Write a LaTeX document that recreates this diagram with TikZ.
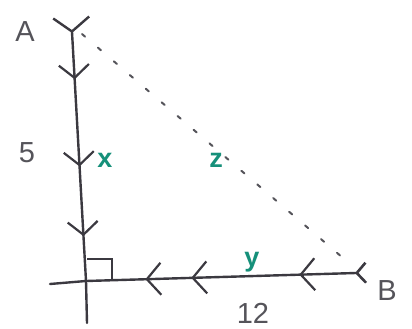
\documentclass[tikz,border=0pt]{standalone}
\usepackage{fontspec}
\setmainfont{Liberation Sans}
\usetikzlibrary{arrows.meta,decorations.markings}
\definecolor{ink}{HTML}{3B3940}
\definecolor{teal}{HTML}{16907A}
\definecolor{pencil}{HTML}{55545A}
\tikzset{
  ink line/.style={draw=ink, line width=2.4pt, line cap=round},
  lbl/.style={text=pencil, font=\fontsize{29}{29}\selectfont, inner sep=0pt},
  var/.style={text=teal, font=\bfseries\fontsize{27}{27}\selectfont, inner sep=0pt},
  dotline/.style={draw=pencil, line width=2pt, dash pattern=on 4pt off 17pt, line cap=round}
}
\begin{document}
\begin{tikzpicture}[x=1pt,y=-1pt]
\useasboundingbox (0,0) rectangle (412,329);
\coordinate (A) at (72,32);
\coordinate (O) at (86,281);
\coordinate (B) at (356,273);
\coordinate (Bot) at (87,323);
\coordinate (L) at (50,284);
\coordinate (D1) at (82,34);
\coordinate (D2) at (350,264);
% dotted hypotenuse
\draw[dotline] (D1) -- (D2);
% vertical side with chevrons
\draw[ink line, postaction={decorate}, decoration={markings,
   mark=at position 1pt with {\arrow[ink]{Straight Barb[length=14pt,width=36pt,line width=2.4pt]}},
   mark=at position 0.19 with {\arrow[ink]{Straight Barb[length=13pt,width=30pt,line width=2.2pt]}},
   mark=at position 0.54 with {\arrow[ink]{Straight Barb[length=13pt,width=30pt,line width=2.2pt]}},
   mark=at position 0.82 with {\arrow[ink]{Straight Barb[length=13pt,width=30pt,line width=2.2pt]}}}]
   (A) -- (O);
\draw[ink line] (O) -- (Bot);
% horizontal side with chevrons
\draw[ink line, postaction={decorate}, decoration={markings,
   mark=at position 1pt with {\arrow[ink]{Straight Barb[length=9pt,width=20pt,line width=2.6pt]}},
   mark=at position 0.21 with {\arrow[ink]{Straight Barb[length=14pt,width=32pt,line width=2.2pt]}},
   mark=at position 0.61 with {\arrow[ink]{Straight Barb[length=14pt,width=32pt,line width=2.2pt]}},
   mark=at position 0.78 with {\arrow[ink]{Straight Barb[length=14pt,width=32pt,line width=2.2pt]}}}]
   (B) -- (O);
\draw[ink line] (O) -- (L);
% right-angle mark
\coordinate (R1) at (87,259);
\coordinate (R2) at (112,259);
\coordinate (R3) at (112,280);
\draw[draw=ink, line width=1.5pt] (R1) -- (R2) -- (R3);
% labels
\node[lbl] (lA) at (25,32) {A};
\node[lbl] (lB) at (387,291) {B};
\node[lbl] (l5) at (27,153) {5};
\node[lbl] (l12) at (253,313) {12};
\node[var] (vx) at (105,160) {x};
\node[var] (vy) at (252,262) {y};
\node[var] (vz) at (216,160) {z};
\end{tikzpicture}
\end{document}
